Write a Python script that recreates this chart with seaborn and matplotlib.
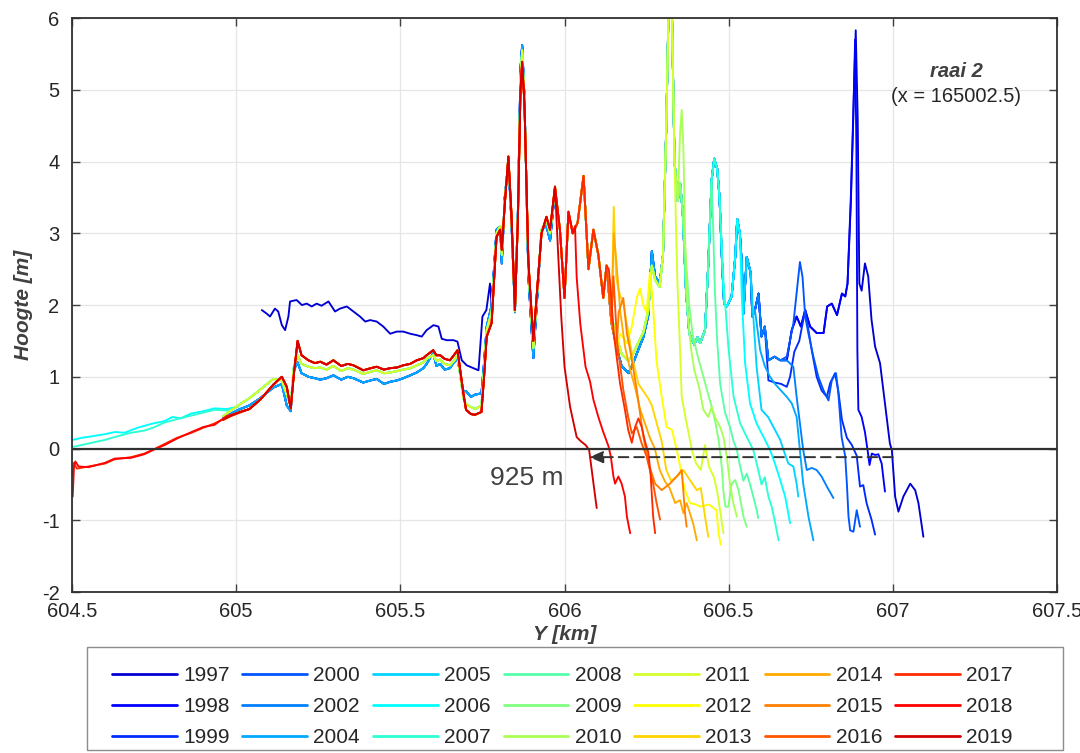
import numpy as np
import pandas as pd
import matplotlib
matplotlib.use("Agg")
import matplotlib.pyplot as plt
import seaborn as sns
from matplotlib.lines import Line2D
from matplotlib.patches import Rectangle

# ---------------- data ----------------
YEARS = [1997, 1998, 1999, 2000, 2002, 2004, 2005, 2006, 2007, 2008, 2009,
         2010, 2011, 2012, 2013, 2014, 2015, 2016, 2017, 2018, 2019]

XTICKS = [604.5, 605, 605.5, 606, 606.5, 607, 607.5]
XTICK_LABELS = ["604.5", "605", "605.5", "606", "606.5", "607", "607.5"]
YTICKS = [-2, -1, 0, 1, 2, 3, 4, 5, 6]
YTICK_LABELS = ["-2", "-1", "0", "1", "2", "3", "4", "5", "6"]

# zero crossings used for the retreat arrow (km)
ZERO_1997 = 607.0
ZERO_2019 = 606.075
RETREAT_LABEL = "925 m"

# beach (only some years measured that far landward)
BEACH_2006_KM = [604.502, 604.53, 604.56, 604.60, 604.63, 604.66, 604.70, 604.747, 604.78, 604.806, 604.83, 604.864, 604.90, 604.934, 604.97, 605.004]
BEACH_2006_M = [0.12, 0.15, 0.17, 0.20, 0.23, 0.22, 0.29, 0.35, 0.38, 0.44, 0.42, 0.49, 0.52, 0.56, 0.55, 0.58]
BEACH_2007_KM = [604.50, 604.55, 604.60, 604.63, 604.68, 604.72, 604.747, 604.78, 604.82, 604.864, 604.90, 604.934, 604.97, 605.004]
BEACH_2007_M = [0.02, 0.07, 0.12, 0.16, 0.22, 0.25, 0.29, 0.36, 0.41, 0.46, 0.50, 0.54, 0.53, 0.58]
BEACH_2017_KM = [604.50, 604.505, 604.515, 604.55, 604.60, 604.63, 604.68, 604.72, 604.75, 604.78, 604.82, 604.864, 604.90, 604.934, 604.97, 605.012]
BEACH_2017_M = [-0.40, -0.20, -0.28, -0.25, -0.21, -0.15, -0.12, -0.07, -0.01, 0.06, 0.15, 0.22, 0.29, 0.35, 0.43, 0.50]
BEACH_2018_KM = [604.502, 604.506, 604.51, 604.52, 604.55, 604.60, 604.63, 604.68, 604.72, 604.747, 604.783, 604.82, 604.864, 604.90, 604.934, 604.97, 605.012]
BEACH_2018_M = [-0.67, -0.25, -0.18, -0.25, -0.26, -0.20, -0.14, -0.13, -0.08, -0.02, 0.05, 0.14, 0.23, 0.30, 0.33, 0.45, 0.51]

# 1997 high landward line
HIGH_1997_KM = [605.078, 605.093, 605.103, 605.118, 605.128, 605.139, 605.149, 605.159, 605.164, 605.184, 605.200, 605.215, 605.230, 605.245, 605.260, 605.281, 605.301, 605.316, 605.337, 605.357, 605.377, 605.393, 605.408, 605.428, 605.448, 605.469, 605.489, 605.509, 605.530, 605.550, 605.565, 605.580, 605.601, 605.616, 605.626, 605.641, 605.662, 605.674, 605.687, 605.702, 605.723, 605.738, 605.750, 605.762, 605.773]
HIGH_1997_M = [1.93, 1.88, 1.84, 1.95, 1.91, 1.72, 1.65, 1.84, 2.05, 2.07, 2.00, 2.02, 1.98, 2.02, 1.99, 2.05, 1.91, 1.95, 1.98, 1.91, 1.84, 1.77, 1.79, 1.77, 1.70, 1.60, 1.63, 1.63, 1.60, 1.58, 1.56, 1.65, 1.72, 1.70, 1.53, 1.51, 1.51, 1.49, 1.23, 1.16, 1.12, 1.09, 1.84, 1.93, 2.30]

# plateau (605.0 - 605.7)
PLAT_KM = [604.96, 604.99, 605.012, 605.04, 605.073, 605.113, 605.139, 605.154, 605.166, 605.176, 605.187, 605.199, 605.22, 605.24, 605.256, 605.275, 605.296, 605.32, 605.34, 605.357, 605.387, 605.41, 605.428, 605.45, 605.469, 605.49, 605.509, 605.53, 605.55, 605.57, 605.58, 605.60, 605.61, 605.621, 605.635, 605.651, 605.663, 605.674, 605.692]
PLAT_RED_M = [0.40, 0.47, 0.51, 0.55, 0.68, 0.89, 1.00, 0.86, 0.56, 1.05, 1.50, 1.30, 1.23, 1.19, 1.21, 1.17, 1.23, 1.15, 1.18, 1.16, 1.09, 1.12, 1.14, 1.10, 1.12, 1.13, 1.16, 1.18, 1.23, 1.26, 1.30, 1.37, 1.30, 1.30, 1.25, 1.23, 1.30, 1.37, 0.77]
PLAT_MID_M = [0.45, 0.55, 0.62, 0.70, 0.82, 0.97, 0.95, 0.75, 0.60, 1.15, 1.30, 1.18, 1.14, 1.12, 1.13, 1.10, 1.15, 1.08, 1.12, 1.10, 1.04, 1.07, 1.09, 1.05, 1.06, 1.08, 1.10, 1.12, 1.16, 1.20, 1.25, 1.30, 1.22, 1.24, 1.18, 1.16, 1.22, 1.30, 0.70]
PLAT_BLUE_M = [0.42, 0.50, 0.55, 0.60, 0.70, 0.85, 0.90, 0.60, 0.52, 1.10, 1.20, 1.05, 1.00, 0.98, 0.96, 0.98, 1.02, 0.96, 1.00, 0.98, 0.92, 0.95, 0.97, 0.90, 0.93, 0.95, 0.98, 1.02, 1.06, 1.12, 1.18, 1.33, 1.15, 1.18, 1.10, 1.12, 1.20, 1.25, 0.80]

# front dunes (605.7 - 605.97)
DUNE_KM = [605.700, 605.715, 605.727, 605.747, 605.755, 605.763, 605.778, 605.793, 605.804, 605.809, 605.818, 605.829, 605.838, 605.849, 605.858, 605.866, 605.871, 605.878, 605.890, 605.905, 605.918, 605.930, 605.945, 605.956, 605.971]
DUNE_RED_M = [0.54, 0.48, 0.47, 0.51, 1.00, 1.56, 1.75, 2.95, 3.05, 2.77, 3.40, 4.07, 3.30, 1.93, 3.20, 5.00, 5.39, 4.80, 2.60, 1.50, 2.30, 3.00, 3.23, 3.05, 3.65]
DUNE_MID_M = [0.62, 0.58, 0.55, 0.60, 1.10, 1.65, 1.90, 3.00, 3.10, 2.70, 3.45, 4.05, 3.25, 1.92, 3.25, 5.15, 5.55, 4.85, 2.50, 1.40, 2.25, 3.05, 3.18, 3.00, 3.62]
DUNE_BLUE_M = [0.80, 0.72, 0.75, 0.77, 1.20, 1.70, 2.00, 3.05, 3.10, 2.58, 3.50, 4.00, 3.20, 1.90, 3.30, 5.30, 5.62, 4.90, 2.40, 1.26, 2.20, 3.05, 3.10, 2.90, 3.60]

# seaward dune ridge followed by the older profiles
SKEL_KM = [605.986, 606.000, 606.012, 606.025, 606.040, 606.058, 606.073, 606.088, 606.103, 606.118, 606.128, 606.143, 606.159, 606.174, 606.195, 606.210, 606.225, 606.240, 606.255, 606.266, 606.276, 606.290, 606.300, 606.310, 606.318, 606.326, 606.335, 606.345, 606.352, 606.360, 606.370, 606.380, 606.395, 606.405, 606.413, 606.428, 606.438, 606.448, 606.456, 606.465, 606.472, 606.480, 606.486, 606.494, 606.509, 606.520, 606.526, 606.534, 606.540, 606.545, 606.555, 606.567, 606.572, 606.580, 606.591, 606.600, 606.610, 606.621, 606.640, 606.657, 606.677, 606.692, 606.707, 606.720, 606.733, 606.748, 606.768, 606.789, 606.800, 606.814, 606.830, 606.845, 606.855, 606.862]
SKEL_M = [3.05, 2.10, 3.30, 3.00, 3.15, 3.80, 2.50, 3.05, 2.70, 2.10, 2.55, 1.75, 1.40, 1.15, 1.05, 1.20, 1.38, 1.55, 1.85, 2.75, 2.40, 2.30, 2.70, 4.50, 6.40, 6.40, 4.00, 3.45, 3.70, 3.30, 2.20, 1.60, 1.45, 1.55, 1.47, 1.65, 2.58, 3.74, 4.04, 3.90, 3.51, 2.58, 2.02, 1.98, 2.12, 2.67, 3.20, 3.00, 2.58, 1.88, 2.67, 2.45, 1.84, 1.93, 2.16, 1.56, 1.70, 1.23, 1.28, 1.23, 1.23, 1.65, 1.84, 1.70, 1.93, 1.70, 1.61, 1.61, 1.98, 2.02, 1.86, 2.16, 2.12, 2.30]

# slightly higher trough of the 2005-2011 profiles (replaces ridge points in this range)
MIDCL_KM = [606.143, 606.159, 606.174, 606.195, 606.210, 606.225, 606.240, 606.255, 606.266, 606.276, 606.290]
MIDCL_M = [1.85, 1.55, 1.32, 1.22, 1.33, 1.48, 1.62, 1.92, 2.55, 2.35, 2.25]

# where each year leaves the ridge (km), same order as YEARS
BREAK_KM = [606.87, 606.87, 606.615, 606.675, 606.69, 606.59, 606.57, 606.53, 606.48, 606.45, 606.365,
            606.348, 606.335, 606.16, 606.145, 606.145, 606.16, 606.145, 606.13, 606.03, 605.98]

# seaward slopes per year
TAIL_1997_KM = [606.872, 606.879, 606.887, 606.893, 606.898, 606.905, 606.915, 606.925, 606.935, 606.946, 606.961, 606.976, 606.991, 606.997, 607.007, 607.017, 607.032, 607.053, 607.068, 607.078, 607.093]
TAIL_1997_M = [3.5, 4.6, 5.83, 4.6, 2.3, 2.2, 2.58, 2.4, 1.8, 1.42, 1.19, 0.63, 0.07, -0.02, -0.67, -0.88, -0.67, -0.49, -0.58, -0.76, -1.23]
TAIL_1998_KM = [606.872, 606.879, 606.885, 606.889, 606.892, 606.895, 606.905, 606.915, 606.923, 606.929, 606.936, 606.946, 606.956, 606.966, 606.976]
TAIL_1998_M = [3.4, 4.5, 5.7, 4.2, 1.37, 0.54, 0.44, 0.23, -0.02, -0.23, -0.07, -0.09, -0.08, -0.21, -0.60]
TAIL_1999_KM = [606.621, 606.64, 606.66, 606.677, 606.687, 606.70, 606.715, 606.733, 606.753, 606.768, 606.783, 606.799, 606.809, 606.824, 606.834, 606.845, 606.86, 606.875, 606.89, 606.90, 606.91, 606.92, 606.935, 606.946]
TAIL_1999_M = [0.95, 0.92, 0.90, 0.86, 1.00, 1.35, 1.50, 1.93, 1.37, 1.00, 0.81, 0.72, 0.91, 1.05, 0.80, 0.40, 0.15, 0.05, -0.10, -0.53, -0.51, -0.76, -0.99, -1.20]
TAIL_2000_KM = [606.677, 606.697, 606.712, 606.717, 606.725, 606.733, 606.743, 606.758, 606.773, 606.789, 606.804, 606.814, 606.827, 606.834, 606.844, 606.855, 606.86, 606.865, 606.87, 606.88, 606.89, 606.90]
TAIL_2000_M = [1.28, 1.74, 2.39, 2.60, 2.39, 1.84, 1.60, 1.28, 1.00, 0.81, 0.67, 0.95, 1.05, 0.77, 0.16, -0.11, -0.49, -0.95, -1.14, -1.16, -0.86, -1.09]
TAIL_2002_KM = [606.697, 606.707, 606.717, 606.727, 606.738, 606.753, 606.768, 606.783, 606.799, 606.819]
TAIL_2002_M = [1.14, 0.72, 0.35, -0.02, -0.30, -0.27, -0.30, -0.39, -0.53, -0.69]
TAIL_2004_KM = [606.596, 606.61, 606.626, 606.641, 606.657, 606.677, 606.692, 606.707, 606.717, 606.727, 606.743, 606.758]
TAIL_2004_M = [1.37, 1.15, 1.00, 0.90, 0.82, 0.72, 0.63, 0.44, -0.02, -0.49, -0.95, -1.28]
TAIL_2005_KM = [606.575, 606.585, 606.600, 606.620, 606.641, 606.657, 606.667, 606.682, 606.697, 606.707, 606.712]
TAIL_2005_M = [1.84, 1.14, 0.54, 0.44, 0.26, 0.12, -0.02, -0.21, -0.25, -0.49, -0.67]
TAIL_2006_KM = [606.534, 606.540, 606.550, 606.565, 606.585, 606.606, 606.626, 606.641, 606.657, 606.672, 606.687]
TAIL_2006_M = [3.00, 2.12, 1.19, 0.63, 0.35, 0.16, -0.02, -0.21, -0.44, -0.67, -1.04]
TAIL_2007_KM = [606.484, 606.499, 606.515, 606.535, 606.555, 606.575, 606.590, 606.600, 606.610, 606.621, 606.631, 606.640, 606.652]
TAIL_2007_M = [2.35, 1.42, 0.72, 0.35, 0.16, -0.02, -0.30, -0.50, -0.40, -0.67, -0.81, -1.00, -1.28]
TAIL_2008_KM = [606.452, 606.458, 606.465, 606.474, 606.489, 606.504, 606.515, 606.525, 606.535, 606.545, 606.555, 606.565, 606.575, 606.585, 606.590]
TAIL_2008_M = [3.2, 2.2, 1.5, 0.9, 0.5, 0.3, 0.1, -0.02, -0.25, -0.45, -0.35, -0.50, -0.67, -0.85, -0.97]
TAIL_2009_KM = [606.370, 606.380, 606.390, 606.405, 606.420, 606.435, 606.450, 606.460, 606.470, 606.480, 606.484, 606.490, 606.499, 606.509, 606.520, 606.530, 606.545, 606.555]
TAIL_2009_M = [2.6, 2.0, 1.6, 1.3, 1.05, 0.8, 0.55, 0.35, 0.1, -0.3, -0.6, -0.81, -0.81, -0.49, -0.44, -0.58, -0.95, -1.09]
TAIL_2010_KM = [606.352, 606.357, 606.362, 606.368, 606.375, 606.385, 606.395, 606.410, 606.423, 606.438, 606.448, 606.458, 606.474, 606.484, 606.494, 606.504, 606.514, 606.525]
TAIL_2010_M = [4.4, 4.72, 4.2, 2.8, 1.9, 1.4, 1.1, 0.85, 0.54, 0.44, 0.58, 0.44, 0.30, 0.16, -0.11, -0.49, -0.76, -0.95]
TAIL_2011_KM = [606.335, 606.340, 606.344, 606.350, 606.357, 606.372, 606.388, 606.400, 606.415, 606.428, 606.440, 606.455, 606.465, 606.475, 606.484]
TAIL_2011_M = [4.0, 3.0, 2.3, 1.6, 0.72, 0.35, -0.02, -0.20, -0.30, 0.05, -0.25, -0.40, -0.60, -0.90, -1.18]
TAIL_2012_KM = [606.170, 606.190, 606.205, 606.220, 606.230, 606.240, 606.250, 606.260, 606.268, 606.280, 606.296, 606.311, 606.327, 606.342, 606.352, 606.367, 606.382, 606.400, 606.413, 606.440, 606.463, 606.469, 606.476]
TAIL_2012_M = [1.60, 1.47, 1.70, 2.10, 2.23, 2.00, 1.90, 2.45, 2.10, 1.23, 0.72, 0.30, 0.26, -0.02, -0.25, -0.58, -0.76, -0.78, -0.81, -0.78, -0.86, -1.18, -1.34]
TAIL_2013_KM = [606.150, 606.157, 606.165, 606.180, 606.195, 606.210, 606.225, 606.240, 606.255, 606.266, 606.281, 606.296, 606.310, 606.325, 606.342, 606.362, 606.382, 606.403, 606.415, 606.428, 606.438]
TAIL_2013_M = [3.37, 2.40, 2.20, 2.00, 1.60, 1.20, 0.90, 0.80, 0.70, 0.60, 0.35, 0.10, -0.30, -0.45, -0.39, -0.30, -0.44, -0.58, -0.55, -0.95, -1.23]
TAIL_2014_KM = [606.150, 606.158, 606.170, 606.185, 606.200, 606.215, 606.230, 606.245, 606.260, 606.275, 606.290, 606.305, 606.320, 606.337, 606.352, 606.362, 606.372, 606.382, 606.392, 606.403]
TAIL_2014_M = [3.0, 2.6, 1.9, 1.4, 1.1, 0.85, 0.55, 0.35, 0.15, 0.0, -0.30, -0.45, -0.55, -0.76, -0.72, -0.90, -0.76, -0.90, -1.05, -1.28]
TAIL_2015_KM = [606.165, 606.179, 606.190, 606.200, 606.220, 606.240, 606.256, 606.276, 606.296, 606.321, 606.342, 606.357, 606.362, 606.367, 606.372]
TAIL_2015_M = [1.90, 2.10, 1.60, 1.37, 0.82, 0.17, -0.21, -0.49, -0.58, -0.49, -0.39, -0.30, -0.60, -0.90, -1.09]
TAIL_2016_KM = [606.149, 606.160, 606.179, 606.194, 606.205, 606.220, 606.235, 606.250, 606.270, 606.280, 606.291]
TAIL_2016_M = [2.40, 1.50, 0.82, 0.44, 0.21, 0.30, 0.07, -0.11, -0.49, -0.75, -0.99]
TAIL_2017_KM = [606.135, 606.139, 606.150, 606.169, 606.184, 606.194, 606.205, 606.215, 606.225, 606.235, 606.245, 606.255, 606.262, 606.270, 606.276]
TAIL_2017_M = [2.50, 2.30, 1.60, 0.91, 0.54, 0.26, 0.08, 0.30, 0.42, 0.30, 0.10, -0.05, -0.35, -0.95, -1.18]
TAIL_2018_KM = [606.032, 606.037, 606.048, 606.064, 606.078, 606.088, 606.103, 606.118, 606.134, 606.141, 606.149, 606.154, 606.164, 606.174, 606.184, 606.190, 606.200]
TAIL_2018_M = [3.10, 2.39, 1.74, 1.14, 0.93, 0.68, 0.44, 0.23, 0.03, -0.11, -0.39, -0.49, -0.39, -0.49, -0.67, -0.95, -1.18]
TAIL_2019_KM = [605.980, 605.990, 606.000, 606.017, 606.037, 606.050, 606.064, 606.075, 606.088, 606.098]
TAIL_2019_M = [2.77, 1.84, 1.14, 0.58, 0.16, 0.10, 0.05, -0.02, -0.48, -0.83]

# ---------------- styling ----------------
COLORS = ["#0000d4", "#0000ff", "#002bff", "#0055ff", "#0080ff", "#00aaff", "#00d4ff",
          "#00ffff", "#2bffd4", "#55ffaa", "#80ff80", "#aaff55", "#d4ff2b", "#ffff00",
          "#ffd400", "#ffaa00", "#ff8000", "#ff5500", "#ff2b00", "#ff0000", "#d40000"]
TEXT = "#262626"

# ---------------- assemble long table ----------------
beaches = {2006: (BEACH_2006_KM, BEACH_2006_M), 2007: (BEACH_2007_KM, BEACH_2007_M),
           2017: (BEACH_2017_KM, BEACH_2017_M), 2018: (BEACH_2018_KM, BEACH_2018_M)}
tails = [(TAIL_1997_KM, TAIL_1997_M), (TAIL_1998_KM, TAIL_1998_M), (TAIL_1999_KM, TAIL_1999_M),
         (TAIL_2000_KM, TAIL_2000_M), (TAIL_2002_KM, TAIL_2002_M), (TAIL_2004_KM, TAIL_2004_M),
         (TAIL_2005_KM, TAIL_2005_M), (TAIL_2006_KM, TAIL_2006_M), (TAIL_2007_KM, TAIL_2007_M),
         (TAIL_2008_KM, TAIL_2008_M), (TAIL_2009_KM, TAIL_2009_M), (TAIL_2010_KM, TAIL_2010_M),
         (TAIL_2011_KM, TAIL_2011_M), (TAIL_2012_KM, TAIL_2012_M), (TAIL_2013_KM, TAIL_2013_M),
         (TAIL_2014_KM, TAIL_2014_M), (TAIL_2015_KM, TAIL_2015_M), (TAIL_2016_KM, TAIL_2016_M),
         (TAIL_2017_KM, TAIL_2017_M), (TAIL_2018_KM, TAIL_2018_M), (TAIL_2019_KM, TAIL_2019_M)]
midcl = dict(zip(MIDCL_KM, MIDCL_M))

rows = []
for i, yr in enumerate(YEARS):
    km, m = [], []
    if yr == 1997:
        km += HIGH_1997_KM
        m += HIGH_1997_M
        dune = DUNE_BLUE_M
    else:
        if yr in beaches:
            km += beaches[yr][0]
            m += beaches[yr][1]
        if yr <= 2004:
            plat, dune = PLAT_BLUE_M, DUNE_BLUE_M
        elif yr <= 2011:
            plat, dune = PLAT_MID_M, DUNE_MID_M
        else:
            plat, dune = PLAT_RED_M, DUNE_RED_M
        start = km[-1] if km else -1
        for xv, yv in zip(PLAT_KM, plat):
            if xv > start:
                km.append(xv)
                m.append(yv)
    start = km[-1]
    for xv, yv in zip(DUNE_KM, dune):
        if xv > start:
            km.append(xv)
            m.append(yv)
    for xv, yv in zip(SKEL_KM, SKEL_M):
        if xv < BREAK_KM[i]:
            if 2005 <= yr <= 2011 and xv in midcl:
                yv = midcl[xv]
            km.append(xv)
            m.append(yv)
    km += tails[i][0]
    m += tails[i][1]
    for j, (xv, yv) in enumerate(zip(km, m)):
        rows.append({"year": str(yr), "km": xv, "m": yv, "idx": j})

df = pd.DataFrame(rows)

# ---------------- plot ----------------
sns.set_theme(style="whitegrid")
plt.rcParams["font.family"] = ["Liberation Sans", "DejaVu Sans"]

fig = plt.figure(figsize=(10.8, 7.53), dpi=100)
ax = fig.add_axes([0.0667, 0.2138, 0.912, 0.7622])

labels = [str(y) for y in YEARS]
sns.lineplot(data=df, x="km", y="m", hue="year", hue_order=labels, palette=COLORS,
             sort=False, estimator=None, units="year", linewidth=1.35, legend=False, ax=ax)

ax.axhline(0, color="#303030", lw=1.6, zorder=5)
ax.annotate("", xy=(ZERO_2019, -0.12), xytext=(ZERO_1997, -0.12),
            arrowprops=dict(arrowstyle="-|>,head_length=0.7,head_width=0.3", color="#333333",
                            lw=1.4, linestyle=(0, (5, 3)), shrinkA=0, shrinkB=0), zorder=6)
ax.text(605.886, -0.41, RETREAT_LABEL, fontsize=19, color="#404040", ha="center", va="center")
ax.text(607.193, 5.25, "raai 2", fontsize=14.5, color="#404040", ha="center", va="center",
        fontweight="bold", fontstyle="italic")
ax.text(607.193, 4.9, "(x = 165002.5)", fontsize=14.5, color=TEXT, ha="center", va="center")

ax.set_xlim(604.5, 607.5)
ax.set_ylim(-2, 6)
ax.set_xticks(XTICKS)
ax.set_xticklabels(XTICK_LABELS)
ax.set_yticks(YTICKS)
ax.set_yticklabels(YTICK_LABELS)
ax.grid(True, color="#e6e6e6", lw=0.9)
ax.tick_params(axis="both", which="both", direction="in", length=6, width=1.0, color="#404040",
               labelsize=14.5, labelcolor=TEXT, top=True, right=True, bottom=True, left=True)
ax.tick_params(axis="x", pad=7)
ax.tick_params(axis="y", pad=9)
for s in ax.spines.values():
    s.set_visible(True)
    s.set_color("#303030")
    s.set_linewidth(1.3)
ax.set_xlabel("Y [km]", fontsize=15, fontweight="bold", fontstyle="italic", color="#404040", labelpad=3)
ax.set_ylabel("Hoogte [m]", fontsize=15, fontweight="bold", fontstyle="italic", color="#404040", labelpad=6)

# legend: box drawn separately, entries placed inside
fig.patches.append(Rectangle((87 / 1080, 3 / 753), 976 / 1080, 103 / 753, transform=fig.transFigure,
                             fill=True, facecolor="white", edgecolor="#8c8c8c", lw=1.0, zorder=1))
handles = [Line2D([0], [0], color=c, lw=2.0) for c in COLORS]
leg = fig.legend(handles, labels, loc="upper left", bbox_to_anchor=(112 / 1080, 1 - 666 / 753),
                 ncol=7, fontsize=15, frameon=False, handlelength=3.1, handletextpad=0.31,
                 labelspacing=0.58, borderaxespad=0.0, borderpad=0.0, columnspacing=0.62)
leg.set_zorder(2)
for t in leg.get_texts():
    t.set_color(TEXT)

fig.savefig("out.png", dpi=100)
